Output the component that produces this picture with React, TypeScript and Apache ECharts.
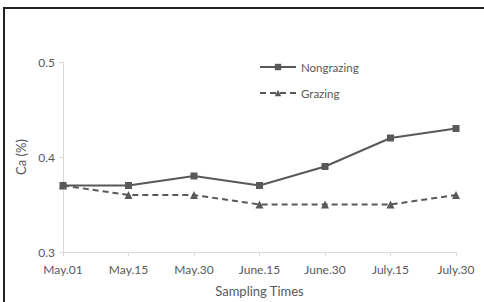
import React, { useEffect, useRef } from "react";
import * as echarts from "echarts";

const categories = ["May.01", "May.15", "May.30", "June.15", "June.30", "July.15", "July.30"];
const nongrazing = [0.37, 0.37, 0.38, 0.37, 0.39, 0.42, 0.43];
const grazing = [0.37, 0.36, 0.36, 0.35, 0.35, 0.35, 0.36];

const FONT = "Lato, 'Open Sans', sans-serif";
const TXT = "#595959";
const AX = "#d9d9d9";

export default function App() {
  const ref = useRef<HTMLDivElement>(null);
  useEffect(() => {
    const chart = echarts.init(ref.current!, null, { renderer: "svg" });
    chart.setOption({
      animation: false,
      backgroundColor: "#ffffff",
      textStyle: { fontFamily: FONT },
      graphic: [
        {
          type: "rect",
          shape: { x: 4, y: 8, width: 500, height: 320 },
          style: { fill: "none", stroke: "#222", lineWidth: 2 },
          silent: true,
        },
      ],
      legend: {
        orient: "vertical",
        left: 254,
        top: 56,
        itemWidth: 36,
        itemHeight: 8,
        itemGap: 14,
        textStyle: { color: TXT, fontSize: 11.5, fontFamily: FONT },
        data: ["Nongrazing", "Grazing"],
      },
      grid: { left: 63, right: 28, top: 62, bottom: 49 },
      xAxis: {
        type: "category",
        data: categories,
        boundaryGap: false,
        axisLine: { lineStyle: { color: AX, width: 1 } },
        axisTick: { show: true, length: 4, alignWithLabel: true, lineStyle: { color: AX } },
        axisLabel: { color: TXT, fontSize: 12, margin: 11, fontFamily: FONT },
        name: "Sampling Times",
        nameLocation: "middle",
        nameGap: 32,
        nameTextStyle: { color: TXT, fontSize: 13, fontFamily: FONT },
      },
      yAxis: {
        type: "value",
        min: 0.3,
        max: 0.5,
        interval: 0.1,
        axisLine: { show: true, lineStyle: { color: AX, width: 1 } },
        axisTick: { show: true, length: 4, lineStyle: { color: AX } },
        splitLine: { show: false },
        axisLabel: { color: TXT, fontSize: 12, margin: 8, fontFamily: FONT, formatter: (v: number) => v.toFixed(1) },
        name: "Ca (%)",
        nameLocation: "middle",
        nameGap: 33,
        nameTextStyle: { color: TXT, fontSize: 13, fontFamily: FONT },
      },
      series: [
        {
          name: "Nongrazing",
          type: "line",
          data: nongrazing,
          symbol: "rect",
          symbolSize: 7,
          itemStyle: { color: "#595959" },
          lineStyle: { color: "#595959", width: 2 },
        },
        {
          name: "Grazing",
          type: "line",
          data: grazing,
          symbol: "triangle",
          symbolSize: 8,
          itemStyle: { color: "#595959" },
          lineStyle: { color: "#595959", width: 2, type: [6, 4] },
        },
      ],
    });
    return () => chart.dispose();
  }, []);
  return (
    <div
      ref={ref}
      style={{ position: "fixed", left: 0, top: 0, width: 484, height: 302 }}
    />
  );
}
